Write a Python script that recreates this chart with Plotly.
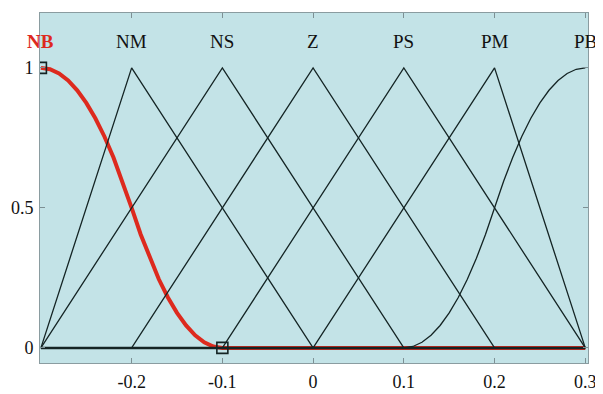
import plotly.graph_objects as go

# ---- data ----
universe = [-0.3, 0.3]
mf_names = ["NB", "NM", "NS", "Z", "PS", "PM", "PB"]
mf_label_x = [-0.3, -0.2, -0.1, 0.0, 0.1, 0.2, 0.3]

# NB (Z-shaped), values
nb_x = [-0.3, -0.29, -0.28, -0.27, -0.26, -0.25, -0.24, -0.23, -0.22, -0.21, -0.2,
        -0.19, -0.18, -0.17, -0.16, -0.15, -0.14, -0.13, -0.12, -0.11, -0.1, 0.3]
nb_y = [1.0, 0.995, 0.98, 0.955, 0.92, 0.875, 0.82, 0.755, 0.68, 0.595, 0.5,
        0.405, 0.32, 0.245, 0.18, 0.125, 0.08, 0.045, 0.02, 0.005, 0.0, 0.0]

# triangles: vertices (left foot, peak, right foot)
nm_x = [-0.3, -0.2, 0.0, 0.3]
nm_y = [0.0, 1.0, 0.0, 0.0]
ns_x = [-0.3, -0.1, 0.1, 0.3]
ns_y = [0.0, 1.0, 0.0, 0.0]
z_x = [-0.3, -0.2, 0.0, 0.2, 0.3]
z_y = [0.0, 0.0, 1.0, 0.0, 0.0]
ps_x = [-0.3, -0.1, 0.1, 0.3]
ps_y = [0.0, 0.0, 1.0, 0.0]
pm_x = [-0.3, 0.0, 0.2, 0.3]
pm_y = [0.0, 0.0, 1.0, 0.0]

# PB (S-shaped)
pb_x = [-0.3, 0.1, 0.11, 0.12, 0.13, 0.14, 0.15, 0.16, 0.17, 0.18, 0.19, 0.2,
        0.21, 0.22, 0.23, 0.24, 0.25, 0.26, 0.27, 0.28, 0.29, 0.3]
pb_y = [0.0, 0.0, 0.005, 0.02, 0.045, 0.08, 0.125, 0.18, 0.245, 0.32, 0.405, 0.5,
        0.595, 0.68, 0.755, 0.82, 0.875, 0.92, 0.955, 0.98, 0.995, 1.0]

# selected-MF handle points
handle_x = [-0.3, -0.1]
handle_y = [1.0, 0.0]

x_ticks = [-0.2, -0.1, 0.0, 0.1, 0.2, 0.3]
x_ticktext = ["-0.2", "-0.1", "0", "0.1", "0.2", "0.3"]
y_ticks = [0, 0.5, 1]
y_ticktext = ["0", "0.5", "1"]

# ---- styles ----
BG = "#c3e3e7"
BLACK = "#142424"
RED = "#dd2a1e"
FONT = "Liberation Serif"

fig = go.Figure()

fig.add_trace(go.Scatter(x=nb_x, y=nb_y, mode="lines",
                         line=dict(color=RED, width=4), hoverinfo="skip"))

for xs, ys in [(nm_x, nm_y), (ns_x, ns_y), (z_x, z_y), (ps_x, ps_y), (pm_x, pm_y), (pb_x, pb_y)]:
    fig.add_trace(go.Scatter(x=xs, y=ys, mode="lines",
                             line=dict(color=BLACK, width=1.3), hoverinfo="skip"))

# zero baseline of the membership functions
fig.add_trace(go.Scatter(x=universe, y=[0, 0], mode="lines",
                         line=dict(color=BLACK, width=2.5), hoverinfo="skip"))

fig.add_trace(go.Scatter(x=handle_x, y=handle_y, mode="markers",
                         marker=dict(symbol="square-open", size=11,
                                     color=BLACK, line=dict(width=1.6, color=BLACK)),
                         hoverinfo="skip"))

for name, xp in zip(mf_names, mf_label_x):
    is_sel = name == "NB"
    fig.add_annotation(x=xp, y=1.095, xref="x", yref="y",
                       text=("<b>%s</b>" % name) if is_sel else name,
                       showarrow=False,
                       font=dict(family=FONT, size=19, color=RED if is_sel else "#111111"))

# page body adds an 8px offset, so the figure is sized to fit the window after it
fig.update_layout(
    width=595, height=386,
    margin=dict(l=32, r=15, t=5, b=31),
    paper_bgcolor="white",
    plot_bgcolor=BG,
    showlegend=False,
    font=dict(family=FONT, size=17, color="#111111"),
)
fig.update_xaxes(range=[-0.301, 0.303], tickvals=x_ticks, ticktext=x_ticktext,
                 ticks="inside", ticklen=5, tickcolor="#7d9094", automargin=False,
                 showline=True, linecolor="#8a9ca0", linewidth=1, mirror="ticks",
                 showgrid=False, zeroline=False,
                 tickfont=dict(family=FONT, size=18, color="#111111"), ticklabelstandoff=2)
fig.update_yaxes(range=[-0.054, 1.196], tickvals=y_ticks, ticktext=y_ticktext,
                 ticks="inside", ticklen=5, tickcolor="#7d9094", automargin=False,
                 showline=True, linecolor="#8a9ca0", linewidth=1, mirror="ticks",
                 showgrid=False, zeroline=False,
                 tickfont=dict(family=FONT, size=18, color="#111111"), ticklabelstandoff=2)

fig.write_html("out.html")
